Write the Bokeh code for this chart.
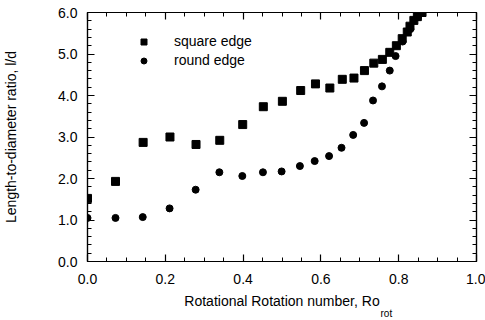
from bokeh.plotting import figure
from bokeh.models import (Range1d, LinearAxis, NumeralTickFormatter, Legend, LegendItem,
                          Title, FixedTicker, CustomJSTickFormatter)
from bokeh.embed import file_html
from bokeh.resources import INLINE

# ---- data ----
square_x = [0.0, 0.072, 0.143, 0.212, 0.279, 0.340, 0.399, 0.452, 0.501, 0.548, 0.586,
            0.623, 0.655, 0.685, 0.712, 0.736, 0.758, 0.777, 0.794, 0.809, 0.822, 0.829,
            0.839, 0.848, 0.860]
square_y = [1.52, 1.93, 2.87, 3.00, 2.82, 2.92, 3.30, 3.73, 3.86, 4.12, 4.28,
            4.18, 4.39, 4.42, 4.60, 4.78, 4.87, 5.04, 5.20, 5.37, 5.53, 5.67,
            5.81, 5.90, 6.00]
round_x = [0.0, 0.072, 0.142, 0.211, 0.278, 0.339, 0.398, 0.451, 0.499, 0.546, 0.584,
           0.621, 0.653, 0.683, 0.711, 0.734, 0.757, 0.777, 0.792, 0.810, 0.830, 0.850]
round_y = [1.05, 1.05, 1.07, 1.28, 1.73, 2.15, 2.06, 2.15, 2.17, 2.30, 2.42,
           2.54, 2.74, 3.05, 3.34, 3.88, 4.22, 4.60, 4.95, 5.30, 5.60, 5.90]

x_ticks = [0.0, 0.2, 0.4, 0.6, 0.8, 1.0]
y_ticks = [0.0, 1.0, 2.0, 3.0, 4.0, 5.0, 6.0]
series_names = ["square edge", "round edge"]
x_title = "Rotational Rotation number, Ro"
x_title_sub = "rot"
y_title = "Length-to-diameter ratio, l/d"

FONT = "Liberation Sans"

p = figure(width=485, height=320, output_backend="svg", toolbar_location=None,
           x_range=Range1d(0, 1), y_range=Range1d(0, 6),
           min_border_left=87, min_border_right=9, min_border_top=12, min_border_bottom=59,
           x_axis_location=None, y_axis_location=None)
p.grid.visible = False
p.outline_line_color = "black"
p.outline_line_width = 1.2
p.background_fill_color = "white"
p.border_fill_color = "white"

x_minor = [i * 0.05 for i in range(21)]
y_minor = [i * 0.2 for i in range(31)]


def make_axis(ticks, minor, labels=True, label_text=None):
    ax = LinearAxis(ticker=FixedTicker(ticks=ticks, minor_ticks=minor))
    ax.axis_line_color = "black"
    ax.axis_line_width = 1.2
    ax.major_tick_in = 7
    ax.major_tick_out = 0
    ax.minor_tick_in = 4
    ax.minor_tick_out = 0
    ax.major_tick_line_color = "black"
    ax.minor_tick_line_color = "black"
    ax.major_tick_line_width = 1.2
    ax.minor_tick_line_width = 1
    if labels:
        ax.formatter = NumeralTickFormatter(format="0.0")
        ax.major_label_text_font = FONT
        ax.major_label_text_font_size = "14px"
        ax.major_label_text_color = "black"
        ax.major_label_standoff = 10
        if label_text is not None:
            ax.axis_label = label_text
            ax.axis_label_text_font = FONT
            ax.axis_label_text_font_size = "14px"
            ax.axis_label_text_font_style = "normal"
            ax.axis_label_text_color = "black"
    else:
        ax.formatter = CustomJSTickFormatter(code="return ''")
        ax.major_label_standoff = 0
    return ax


xb = make_axis(x_ticks, x_minor, True, x_title)
xb.major_label_standoff = 12
xb.axis_label_standoff = 6
yl = make_axis(y_ticks, y_minor, True, y_title)
yl.axis_label_standoff = 36
xt = make_axis(x_ticks, x_minor, False)
yr = make_axis(y_ticks, y_minor, False)
p.add_layout(xb, "below")
p.add_layout(yl, "left")
p.add_layout(xt, "above")
p.add_layout(yr, "right")

# subscript of "Ro" placed just under the end of the x-axis title
sub = Title(text=x_title_sub, align="left", offset=293, standoff=-11,
            text_font=FONT, text_font_size="10px", text_font_style="normal",
            text_color="black")
p.add_layout(sub, "below")

r_sq = p.scatter(square_x, square_y, marker="square", size=8, fill_color="black",
                 line_color="black")
r_rd = p.scatter(round_x, round_y, marker="circle", size=7, fill_color="black",
                 line_color="black")

legend = Legend(items=[LegendItem(label=series_names[0], renderers=[r_sq]),
                       LegendItem(label=series_names[1], renderers=[r_rd])],
                location=(49, 193), orientation="vertical",
                background_fill_alpha=0, border_line_alpha=0,
                padding=0, spacing=3, glyph_width=15, glyph_height=15,
                label_height=15, label_standoff=23,
                label_text_font=FONT, label_text_font_size="14px",
                label_text_color="black")
p.add_layout(legend, "center")

open("out.html", "w").write(file_html(p, INLINE))
